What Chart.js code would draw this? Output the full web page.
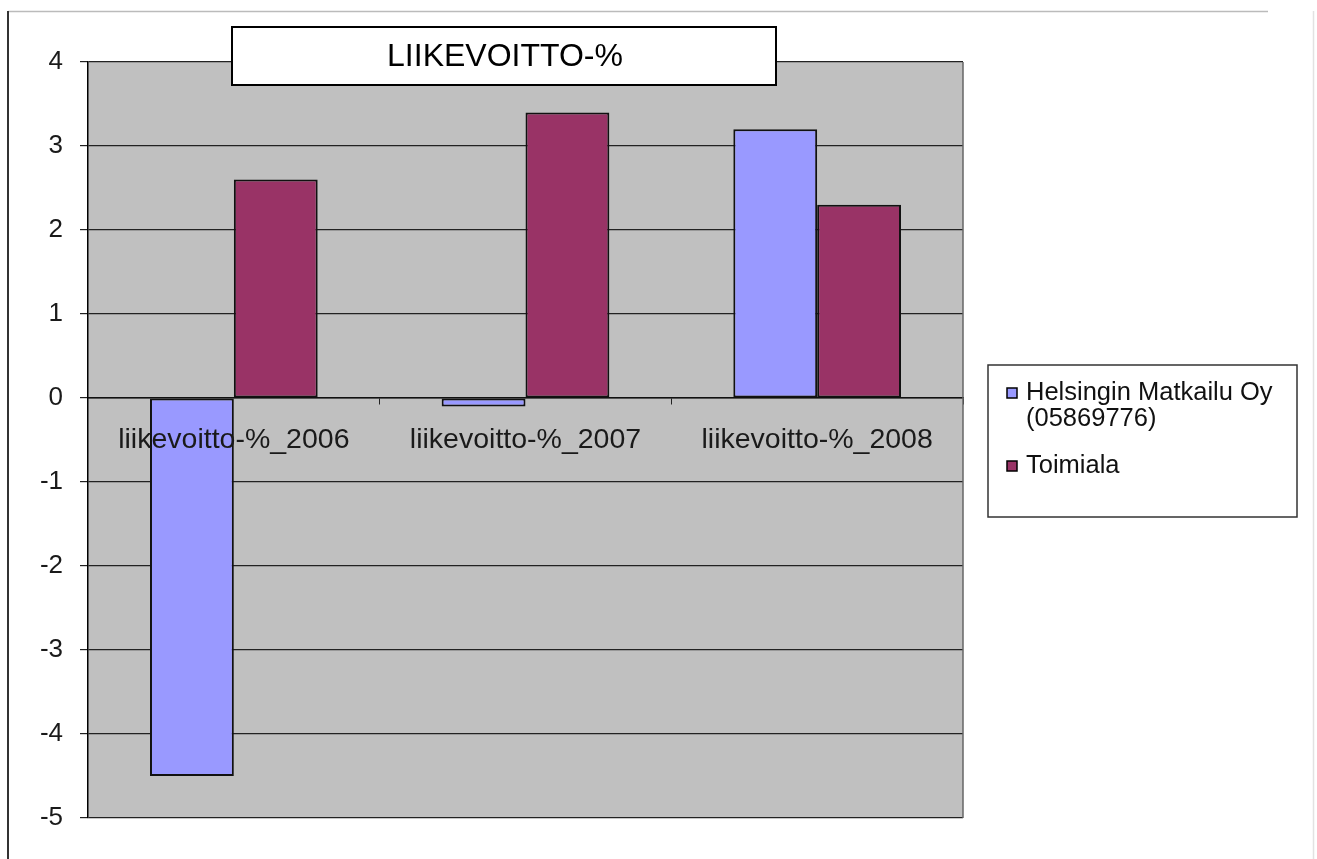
<!DOCTYPE html>
<html>
<head>
<meta charset="utf-8">
<title>LIIKEVOITTO-%</title>
<script src="https://cdn.jsdelivr.net/npm/chart.js@4.4.1/dist/chart.umd.min.js"></script>
<style>
	html, body { margin: 0; padding: 0; background: #fff; }
	#wrap { width: 1317px; height: 859px; position: relative; }
</style>
</head>
<body>
<div id="wrap"><canvas id="barChart" width="1317" height="859"></canvas></div>
<script>
	//data
	const chartTitle = 'LIIKEVOITTO-%';
	const categories = ['liikevoitto-%_2006', 'liikevoitto-%_2007', 'liikevoitto-%_2008'];
	const seriesNames = [['Helsingin Matkailu Oy', '(05869776)'], ['Toimiala']];
	const helsinkiValues = [-4.5, -0.1, 3.2];
	const toimialaValues = [2.6, 3.4, 2.3];
	const seriesColors = ['#9999FF', '#993366'];
	const yMin = -5;
	const yMax = 4;

	//gray plot background + frame, title box and legend box
	const excelLook = {
		id: 'excelLook',
		beforeDraw: function(chart) {
			const ctx = chart.ctx;
			const a = chart.chartArea;
			ctx.save();
			ctx.fillStyle = '#C0C0C0';
			ctx.fillRect(a.left, a.top, a.right - a.left, a.bottom - a.top);
			//page frame
			ctx.strokeStyle = '#bbbbbb';
			ctx.lineWidth = 1.5;
			ctx.beginPath();
			ctx.moveTo(8, 11.5);
			ctx.lineTo(1268, 11.5);
			ctx.stroke();
			ctx.strokeStyle = '#e2e2e2';
			ctx.beginPath();
			ctx.moveTo(1313.5, 11);
			ctx.lineTo(1313.5, 859);
			ctx.stroke();
			ctx.strokeStyle = '#333';
			ctx.lineWidth = 2;
			ctx.beginPath();
			ctx.moveTo(8, 11);
			ctx.lineTo(8, 859);
			ctx.stroke();
			ctx.restore();
		},
		afterDraw: function(chart) {
			const ctx = chart.ctx;
			const a = chart.chartArea;
			ctx.save();
			//right edge of plot
			ctx.strokeStyle = '#666';
			ctx.lineWidth = 1.5;
			ctx.beginPath();
			ctx.moveTo(a.right, a.top);
			ctx.lineTo(a.right, a.bottom);
			ctx.stroke();

			//title box
			ctx.fillStyle = '#fff';
			ctx.fillRect(232, 27, 544, 58);
			ctx.strokeStyle = '#000';
			ctx.lineWidth = 2;
			ctx.strokeRect(232, 27, 544, 58);
			ctx.fillStyle = '#000';
			ctx.font = '32px "Liberation Sans", Arial, sans-serif';
			ctx.textAlign = 'center';
			ctx.textBaseline = 'middle';
			ctx.fillText(chartTitle, 505, 57);

			//legend box
			ctx.fillStyle = '#fff';
			ctx.fillRect(988, 365, 309, 152);
			ctx.strokeStyle = '#333';
			ctx.lineWidth = 1.5;
			ctx.strokeRect(988, 365, 309, 152);
			ctx.font = '25.5px "Liberation Sans", Arial, sans-serif';
			ctx.textAlign = 'left';
			let y = 393;
			seriesNames.forEach(function(lines, i) {
				ctx.fillStyle = seriesColors[i];
				ctx.fillRect(1007, y - 5, 10, 10);
				ctx.strokeStyle = '#000';
				ctx.lineWidth = 1.5;
				ctx.strokeRect(1007, y - 5, 10, 10);
				ctx.fillStyle = '#111';
				lines.forEach(function(t, j) {
					ctx.fillText(t, 1026, y + j * 26);
				});
				y += lines.length * 26 + 21;
			});
			ctx.restore();
		}
	};

	const data = {
		labels: categories,
		datasets: [{
			label: seriesNames[0].join(' '),
			data: helsinkiValues,
			backgroundColor: seriesColors[0],
			borderColor: '#111',
			borderWidth: 2,
			borderSkipped: false
		},
		{
			label: seriesNames[1].join(' '),
			data: toimialaValues,
			backgroundColor: seriesColors[1],
			borderColor: '#111',
			borderWidth: 2,
			borderSkipped: false
		}]
	};

	const config = {
		type: 'bar',
		data: data,
		options: {
			responsive: false,
			animation: false,
			layout: { padding: { left: 0, top: 62, right: 354, bottom: 41 } },
			datasets: { bar: { barPercentage: 1, categoryPercentage: 0.575 } },
			plugins: {
				legend: { display: false },
				title: { display: false },
				tooltip: { enabled: false }
			},
			scales: {
				x: {
					position: { y: 0 },
					grid: { drawOnChartArea: false, drawTicks: true, tickLength: 6, color: '#222', offset: true },
					border: { display: true, color: '#111', width: 1.5 },
					ticks: {
						z: 1,	// labels on top of the bars like in excel
						color: '#1a1a1a',
						padding: 19,
						maxRotation: 0,
						autoSkip: false,
						font: { family: '"Liberation Sans", Arial, sans-serif', size: 28.5 }
					}
				},
				y: {
					min: yMin,
					max: yMax,
					afterFit: function(scale) { scale.width = 88; },
					grid: { color: '#222', lineWidth: 1.2, tickLength: 8, drawTicks: true },
					border: { display: true, color: '#000', width: 1.5 },
					ticks: {
						stepSize: 1,
						color: '#1a1a1a',
						padding: 17,
						font: { family: '"Liberation Sans", Arial, sans-serif', size: 26 }
					}
				}
			}
		},
		plugins: [excelLook]
	};

	const barChart = new Chart(document.getElementById('barChart'), config);
</script>
</body>
</html>
